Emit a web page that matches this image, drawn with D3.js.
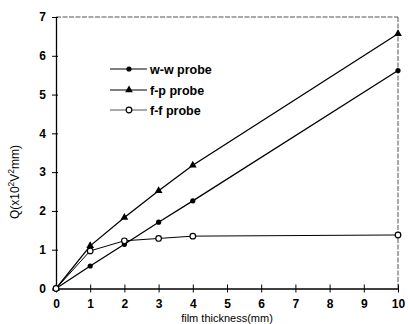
<!DOCTYPE html>
<html>
<head>
<meta charset="utf-8">
<script src="https://cdn.jsdelivr.net/npm/d3@7"></script>
<style>
  html, body { margin: 0; padding: 0; background: #fff; }
  svg { display: block; font-family: "Liberation Sans", Arial, sans-serif; }
</style>
</head>
<body>
<svg id="chart" width="408" height="324"></svg>
<script>
// Film thickness (mm) at which each probe was measured
const thickness = [0, 1, 2, 3, 4, 10];
// Q values (x10^2 V^2 mm) for each probe
const wwProbe = [0, 0.58, 1.14, 1.71, 2.26, 5.62];
const fpProbe = [0, 1.10, 1.83, 2.52, 3.18, 6.57];
const ffProbe = [0, 0.97, 1.23, 1.29, 1.35, 1.38];
const seriesNames = ["w-w probe", "f-p probe", "f-f probe"];
const xTicks = [0, 1, 2, 3, 4, 5, 6, 7, 8, 9, 10];
const yTicks = [0, 1, 2, 3, 4, 5, 6, 7];

const svg = d3.select("#chart");
const x = d3.scaleLinear().domain([0, 10]).range([56, 398]);
const y = d3.scaleLinear().domain([0, 7]).range([288.5, 17]);

// frame: top and right edges are faint
svg.append("line").attr("x1", x(0)).attr("x2", x(10)).attr("y1", y(7)).attr("y2", y(7))
  .attr("stroke", "#555").attr("stroke-width", 1).attr("stroke-dasharray", "5,1.5");
svg.append("line").attr("x1", x(10)).attr("x2", x(10)).attr("y1", y(7)).attr("y2", y(0))
  .attr("stroke", "#555").attr("stroke-width", 1).attr("stroke-dasharray", "5,1.5");

// bottom axis
const xAxis = d3.axisBottom(x).tickValues(xTicks).tickFormat(d3.format("d"))
  .tickSizeInner(4).tickSizeOuter(0).tickPadding(7);
const gx = svg.append("g").attr("transform", `translate(0,${y(0)})`).call(xAxis);
gx.select(".domain").attr("stroke", "#000").attr("stroke-width", 1.3);
gx.selectAll(".tick line").attr("y1", -4).attr("y2", 4).attr("stroke", "#000");
gx.selectAll(".tick text").attr("font-size", 12).attr("font-weight", "bold")
  .attr("font-family", "Liberation Sans, Arial, sans-serif").attr("fill", "#000");

// left axis
const yAxis = d3.axisLeft(y).tickValues(yTicks).tickFormat(d3.format("d"))
  .tickSizeInner(4).tickSizeOuter(0).tickPadding(6);
const gy = svg.append("g").attr("transform", `translate(${x(0)},0)`).call(yAxis);
gy.select(".domain").attr("stroke", "#000").attr("stroke-width", 1.3);
gy.selectAll(".tick line").attr("x1", -4).attr("x2", 2).attr("stroke", "#000");
gy.selectAll(".tick text").attr("font-size", 12).attr("font-weight", "bold")
  .attr("font-family", "Liberation Sans, Arial, sans-serif").attr("fill", "#000");

// axis titles
svg.append("text").attr("x", 227).attr("y", 321.5).attr("text-anchor", "middle")
  .attr("font-size", 11).attr("fill", "#000").text("film thickness(mm)");

const yl = svg.append("text")
  .attr("transform", `translate(19,182) rotate(-90)`)
  .attr("text-anchor", "middle").attr("font-size", 12).attr("fill", "#000");
yl.append("tspan").text("Q(x10");
yl.append("tspan").attr("font-size", 8.5).attr("baseline-shift", "super").text("2");
yl.append("tspan").text("V");
yl.append("tspan").attr("font-size", 8.5).attr("baseline-shift", "super").text("2");
yl.append("tspan").text("mm)");

// series
const series = [
  { name: seriesNames[0], values: wwProbe, marker: "dot", width: 1.3 },
  { name: seriesNames[1], values: fpProbe, marker: "tri", width: 1.3 },
  { name: seriesNames[2], values: ffProbe, marker: "ring", width: 1.0 }
];

const line = d3.line().x((d, i) => x(thickness[i])).y(d => y(d));

function drawMarker(g, kind, cx, cy) {
  if (kind === "dot") {
    g.append("circle").attr("cx", cx).attr("cy", cy).attr("r", 2.6).attr("fill", "#000");
  } else if (kind === "tri") {
    g.append("path").attr("transform", `translate(${cx},${cy})`)
      .attr("d", d3.symbol().type(d3.symbolTriangle).size(26)()).attr("fill", "#000");
  } else {
    g.append("circle").attr("cx", cx).attr("cy", cy).attr("r", 2.8)
      .attr("fill", "#fff").attr("stroke", "#000").attr("stroke-width", 1.2);
  }
}

series.forEach(s => {
  svg.append("path").datum(s.values).attr("d", line)
    .attr("fill", "none").attr("stroke", "#000").attr("stroke-width", s.width);
});
series.forEach(s => {
  const g = svg.append("g");
  s.values.forEach((v, i) => drawMarker(g, s.marker, x(thickness[i]), y(v)));
});

// legend
const legendRows = [69, 90, 110];
series.forEach((s, i) => {
  const g = svg.append("g");
  g.append("line").attr("x1", 110).attr("x2", 147).attr("y1", legendRows[i]).attr("y2", legendRows[i])
    .attr("stroke", "#555").attr("stroke-width", s.width);
  drawMarker(g, s.marker, 129, legendRows[i]);
  g.append("text").attr("x", 150).attr("y", legendRows[i] + 4.5)
    .attr("font-size", 12.5).attr("font-weight", "bold").attr("fill", "#000").text(s.name);
});
</script>
</body>
</html>
